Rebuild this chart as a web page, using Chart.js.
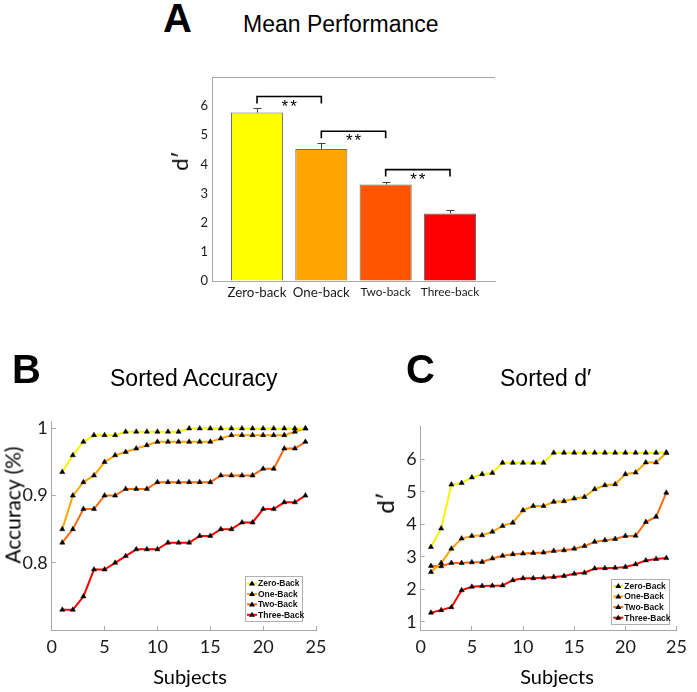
<!DOCTYPE html>
<html><head><meta charset="utf-8">
<script src="https://cdn.jsdelivr.net/npm/chart.js@4.4.1/dist/chart.umd.min.js"></script>
<style>
html,body{margin:0;padding:0;background:#fff}
body{width:697px;height:692px;position:relative;overflow:hidden}
canvas{position:absolute}
.t{position:absolute;white-space:nowrap;line-height:1;color:#000}
.sans{font-family:"Liberation Sans",Arial,sans-serif}
.cal{font-family:Lato,"Open Sans",sans-serif}
.rot{transform:translate(-50%,-50%) rotate(-90deg)}
.ctr{transform:translateX(-50%)}
</style></head><body>
<canvas id="cA" width="360" height="250" style="left:150px;top:60px"></canvas>
<canvas id="cB" width="340" height="312" style="left:0px;top:380px"></canvas>
<canvas id="cC" width="347" height="312" style="left:350px;top:380px"></canvas>

<div class="t sans" style="left:163px;top:-2px;font-size:40px;font-weight:bold">A</div>
<div class="t sans" style="left:243px;top:12.5px;font-size:23px">Mean Performance</div>
<div class="t sans" style="left:12px;top:349px;font-size:40px;font-weight:bold">B</div>
<div class="t sans" style="left:110px;top:366.5px;font-size:23px">Sorted Accuracy</div>
<div class="t sans" style="left:406px;top:349px;font-size:40px;font-weight:bold">C</div>
<div class="t sans" style="left:500px;top:366.5px;font-size:23px">Sorted d′</div>
<div class="t cal rot" style="left:180px;top:161px;font-size:22px">d′</div>
<div class="t cal rot" style="left:12px;top:505px;font-size:21px">Accuracy (%)</div>
<div class="t cal rot" style="left:385px;top:503px;font-size:24px">d′</div>
<div class="t cal ctr" style="left:190px;top:666px;font-size:20px">Subjects</div>
<div class="t cal ctr" style="left:557px;top:666px;font-size:20px">Subjects</div>

<script>
// ---------- Panel A data ----------
const categories = ['Zero-back', 'One-back', 'Two-back', 'Three-back'];
const meanDprime = [5.78, 4.53, 3.31, 2.32];
const semDprime = [0.16, 0.21, 0.10, 0.10];
const barColors = ['#FFFF00', '#FFA500', '#FF5500', '#FF0000'];
const dprimeTicks = [0, 1, 2, 3, 4, 5, 6];
const sigFrom = [1, 2, 3];
const sigTo = [2, 3, 4];
const sigTop = [6.33, 5.14, 3.82];
const sigBottom = [6.09, 4.90, 3.59];
const sigText = ['**', '**', '**'];

// ---------- Panels B / C data ----------
const seriesNames = ['Zero-Back', 'One-Back', 'Two-Back', 'Three-Back'];
const seriesColors = ['#F6F200', '#FFA500', '#FF6A10', '#FF0000'];
const subjects = [1,2,3,4,5,6,7,8,9,10,11,12,13,14,15,16,17,18,19,20,21,22,23,24];
const subjectTicks = [0, 5, 10, 15, 20, 25];
const accTicks = [0.8, 0.9, 1];
const accZero  = [0.935,0.96,0.98,0.99,0.99,0.99,0.995,0.995,0.995,0.995,0.995,0.995,1,1,1,1,1,1,1,1,1,1,1,1];
const accOne   = [0.85,0.90,0.92,0.93,0.95,0.96,0.965,0.97,0.975,0.98,0.98,0.98,0.98,0.98,0.98,0.985,0.99,0.99,0.99,0.99,0.99,0.99,0.995,1.0];
const accTwo   = [0.83,0.85,0.88,0.88,0.90,0.90,0.91,0.91,0.91,0.92,0.92,0.92,0.92,0.92,0.92,0.93,0.93,0.93,0.93,0.94,0.94,0.97,0.97,0.98];
const accThree = [0.73,0.73,0.75,0.79,0.79,0.80,0.81,0.82,0.82,0.82,0.83,0.83,0.83,0.84,0.84,0.85,0.85,0.86,0.86,0.88,0.88,0.89,0.89,0.90];
const dTicks = [1, 2, 3, 4, 5, 6];
const dZero  = [3.30,3.87,5.22,5.27,5.44,5.54,5.58,5.89,5.89,5.89,5.89,5.89,6.20,6.20,6.20,6.20,6.20,6.20,6.20,6.20,6.20,6.20,6.20,6.20];
const dOne   = [2.53,2.81,3.25,3.56,3.64,3.66,3.77,3.95,4.05,4.43,4.56,4.56,4.69,4.71,4.79,4.84,5.08,5.20,5.23,5.54,5.59,5.90,5.90,6.20];
const dTwo   = [2.72,2.71,2.81,2.81,2.83,2.84,2.95,3.03,3.08,3.10,3.12,3.13,3.18,3.20,3.25,3.33,3.46,3.51,3.55,3.64,3.65,4.07,4.23,4.97];
const dThree = [1.28,1.36,1.45,1.97,2.08,2.10,2.11,2.12,2.28,2.34,2.34,2.36,2.38,2.41,2.48,2.51,2.64,2.65,2.66,2.69,2.77,2.89,2.93,2.96];

const axisGray = '#a8a8a8';
const tickColor = '#1a1a1a';

// ---------- plugins ----------
const panelAExtras = {
  id: 'panelAExtras',
  afterDatasetsDraw(chart) {
    const {ctx, chartArea: ca, scales: {x, y}} = chart;
    ctx.save();
    ctx.strokeStyle = axisGray; ctx.lineWidth = 1;
    ctx.beginPath();
    ctx.moveTo(ca.left, Math.round(ca.top) + 0.5);
    ctx.lineTo(ca.right, Math.round(ca.top) + 0.5);
    ctx.stroke();
    ctx.strokeStyle = '#404040'; ctx.lineWidth = 1;
    meanDprime.forEach((m, i) => {
      const px = Math.round(x.getPixelForValue(i + 1)) + 0.5;
      const y0 = y.getPixelForValue(m), y1 = Math.round(y.getPixelForValue(m + semDprime[i])) + 0.5;
      ctx.beginPath();
      ctx.moveTo(px, y0); ctx.lineTo(px, y1);
      ctx.moveTo(px - 4, y1); ctx.lineTo(px + 4, y1);
      ctx.stroke();
    });
    ctx.fillStyle = '#000';
    ctx.font = '17px "Liberation Sans", Arial, sans-serif';
    ctx.textAlign = 'center'; ctx.textBaseline = 'alphabetic';
    try { ctx.letterSpacing = '2px'; } catch (e) {}
    sigText.forEach((t, i) => {
      const cx = (x.getPixelForValue(sigFrom[i]) + x.getPixelForValue(sigTo[i])) / 2 + 1;
      ctx.fillText(t, cx, y.getPixelForValue(sigTop[i]) + 15);
    });
    ctx.restore();
  }
};

const boxLegend = {
  id: 'boxLegend',
  afterDraw(chart, args, opts) {
    if (!opts || !opts.display) return;
    const ctx = chart.ctx, ca = chart.chartArea, ds = chart.data.datasets;
    const w = opts.width, rowH = opts.rowHeight, h = rowH * ds.length + opts.padY * 2;
    const x1 = ca.right - opts.right, x0 = x1 - w, y1 = ca.bottom - opts.bottom, y0 = y1 - h;
    ctx.save();
    ctx.fillStyle = '#fff'; ctx.fillRect(x0, y0, w, h);
    ctx.strokeStyle = '#b0b0b0'; ctx.lineWidth = 1;
    ctx.strokeRect(Math.round(x0) + 0.5, Math.round(y0) + 0.5, Math.round(w) - 1, Math.round(h) - 1);
    ctx.font = opts.font; ctx.textBaseline = 'middle'; ctx.textAlign = 'left';
    ds.forEach((d, i) => {
      const cy = y0 + opts.padY + rowH * (i + 0.5);
      ctx.strokeStyle = d.borderColor; ctx.lineWidth = 2;
      ctx.beginPath(); ctx.moveTo(x0 + 2, cy); ctx.lineTo(x0 + 12, cy); ctx.stroke();
      ctx.fillStyle = '#000';
      ctx.beginPath(); ctx.moveTo(x0 + 7, cy - 3); ctx.lineTo(x0 + 10, cy + 2); ctx.lineTo(x0 + 4, cy + 2); ctx.closePath(); ctx.fill();
      ctx.fillStyle = '#111';
      ctx.fillText(d.label, x0 + 13, cy + 0.5);
    });
    ctx.restore();
  }
};

// ---------- Panel A ----------
new Chart(document.getElementById('cA'), {
  type: 'bar',
  data: {
    datasets: [
      {
        type: 'bar',
        data: categories.map((c, i) => ({x: i + 1, y: meanDprime[i]})),
        backgroundColor: barColors,
        borderColor: '#6a6a6a',
        borderWidth: 1,
        categoryPercentage: 0.81,
        barPercentage: 1,
        order: 2
      },
      ...sigFrom.map((f, i) => ({
        type: 'line',
        data: [{x: f, y: sigBottom[i]}, {x: f, y: sigTop[i]}, {x: sigTo[i], y: sigTop[i]}, {x: sigTo[i], y: sigBottom[i]}],
        borderColor: '#000', borderWidth: 1.6, pointRadius: 0, fill: false, tension: 0, order: 1
      }))
    ]
  },
  options: {
    responsive: false, animation: false, events: [],
    layout: {padding: {left: 0, right: 15, top: 17, bottom: 0}},
    plugins: {legend: {display: false}, tooltip: {enabled: false}},
    scales: {
      x: {
        type: 'linear', min: 0.3, max: 4.7, offset: false,
        afterBuildTicks: s => { s.ticks = categories.map((c, i) => ({value: i + 1})); },
        afterFit: s => { s.height = 29; },
        grid: {display: true, drawOnChartArea: false, drawTicks: false, offset: false},
        border: {color: axisGray, width: 1},
        ticks: {
          callback: v => categories[v - 1], color: tickColor,
          font: c => ({family: 'Lato', size: c.index < 2 ? 13.3 : 11.8}),
          padding: 4, maxRotation: 0, autoSkip: false
        }
      },
      y: {
        type: 'linear', min: 0, max: 7,
        afterBuildTicks: s => { s.ticks = dprimeTicks.map(v => ({value: v})); },
        afterFit: s => { s.width = 62; },
        grid: {display: true, drawOnChartArea: false, drawTicks: false},
        border: {color: axisGray, width: 1},
        ticks: {callback: v => String(v), color: tickColor, font: {family: 'Lato', size: 13}, padding: 4}
      }
    }
  },
  plugins: [panelAExtras]
});

// ---------- Panels B / C ----------
function makeLineChart(id, seriesVals, yMin, yMax, yTicks, cfg) {
  return new Chart(document.getElementById(id), {
    type: 'line',
    data: {
      datasets: seriesVals.map((vals, k) => ({
        label: seriesNames[k],
        data: subjects.map((s, i) => ({x: s, y: vals[i]})),
        borderColor: seriesColors[k],
        borderWidth: 2,
        tension: 0,
        fill: false,
        pointStyle: 'triangle',
        pointRadius: 3,
        pointBackgroundColor: '#000',
        pointBorderColor: '#000',
        pointBorderWidth: 0.5
      }))
    },
    options: {
      responsive: false, animation: false, events: [],
      layout: {padding: {left: 0, right: cfg.padRight, top: cfg.padTop, bottom: 0}},
      plugins: {legend: {display: false}, tooltip: {enabled: false}, boxLegend: cfg.legend},
      scales: {
        x: {
          type: 'linear', min: 0, max: 25,
          afterBuildTicks: s => { s.ticks = subjectTicks.map(v => ({value: v})); },
          afterFit: s => { s.height = cfg.xHeight; },
          grid: {display: true, drawOnChartArea: false, drawTicks: true, tickLength: -4, color: axisGray},
          border: {color: axisGray, width: 1},
          ticks: {callback: v => String(v), color: tickColor, font: {family: 'Lato', size: 18}, padding: 10, maxRotation: 0, autoSkip: false}
        },
        y: {
          type: 'linear', min: yMin, max: yMax,
          afterBuildTicks: s => { s.ticks = yTicks.map(v => ({value: v})); },
          afterFit: s => { s.width = cfg.yWidth; },
          grid: {display: true, drawOnChartArea: false, drawTicks: true, tickLength: -4, color: axisGray},
          border: {color: axisGray, width: 1},
          ticks: {callback: v => String(v), color: tickColor, font: {family: 'Lato', size: 18}, padding: 8}
        }
      }
    },
    plugins: [boxLegend]
  });
}

makeLineChart('cB', [accZero, accOne, accTwo, accThree], 0.7, 1.01, accTicks, {
  padTop: 41.7, padRight: 24, yWidth: 51.7, xHeight: 62,
  legend: {display: true, width: 58, rowHeight: 10.4, padY: 2, right: 13, bottom: 8, font: 'bold 8.5px "Liberation Sans", Arial, sans-serif'}
});
makeLineChart('cC', [dZero, dOne, dTwo, dThree], 0.75, 7, dTicks, {
  padTop: 46.7, padRight: 12.7, yWidth: 70.7, xHeight: 62,
  legend: {display: true, width: 59, rowHeight: 10.6, padY: 2, right: 6.3, bottom: 5, font: 'bold 8.5px "Liberation Sans", Arial, sans-serif'}
});
</script>
</body></html>
